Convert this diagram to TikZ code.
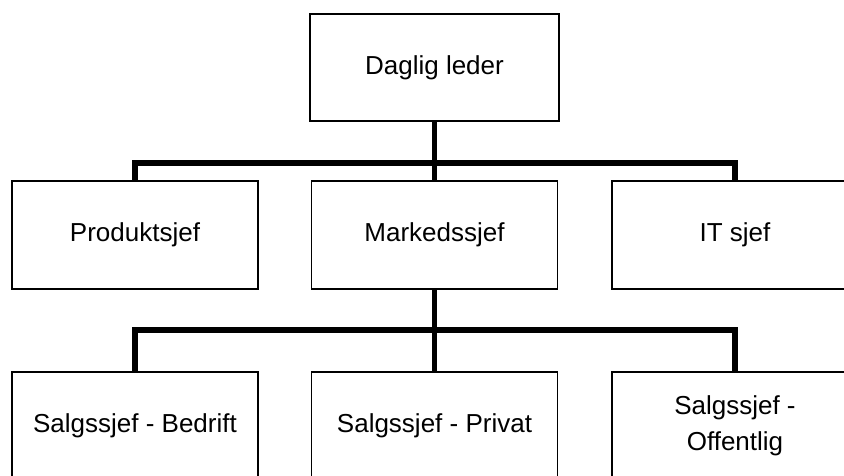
\documentclass[tikz,border=0pt]{standalone}
\usepackage{fontspec}
\setmainfont{Liberation Sans}
\begin{document}
\begin{tikzpicture}[x=1pt,y=-1pt,
  orgbox/.style={draw=black, line width=1.3pt, fill=white, minimum width=246pt,
    minimum height=108pt, inner sep=0pt, align=center,
    font=\fontsize{26}{36}\selectfont},
  conn/.style={draw=black, line width=5.5pt, line join=miter, line cap=butt}]
  \useasboundingbox (0,0) rectangle (844,476);
  \clip (0,0) rectangle (844,476);
  \fill[white] (0,0) rectangle (844,476);

  % junction points of the two horizontal bars
  \coordinate (bar1) at (434.5,163);
  \coordinate (bar2) at (434.5,330);

  % top level
  \node[orgbox, minimum width=249pt, minimum height=107pt] (leder) at (434.5,67.5) {Daglig leder};

  % second level
  \node[orgbox] (produkt) at (135,235) {Produktsjef};
  \node[orgbox] (marked)  at (434.5,235) {Markedssjef};
  \node[orgbox] (it)      at (735,235) {IT sjef};

  % third level
  \node[orgbox] (bedrift)   at (135,426) {Salgssjef - Bedrift};
  \node[orgbox] (privat)    at (434.5,426) {Salgssjef - Privat};
  \node[orgbox] (offentlig) at (735,426) {Salgssjef -\\Offentlig};

  \draw[conn] (leder.south) -- (marked.north);
  \draw[conn] (produkt.north) |- (bar1) -| (it.north);

  \draw[conn] (marked.south) -- (privat.north);
  \draw[conn] (bedrift.north) |- (bar2) -| (offentlig.north);
\end{tikzpicture}
\end{document}
